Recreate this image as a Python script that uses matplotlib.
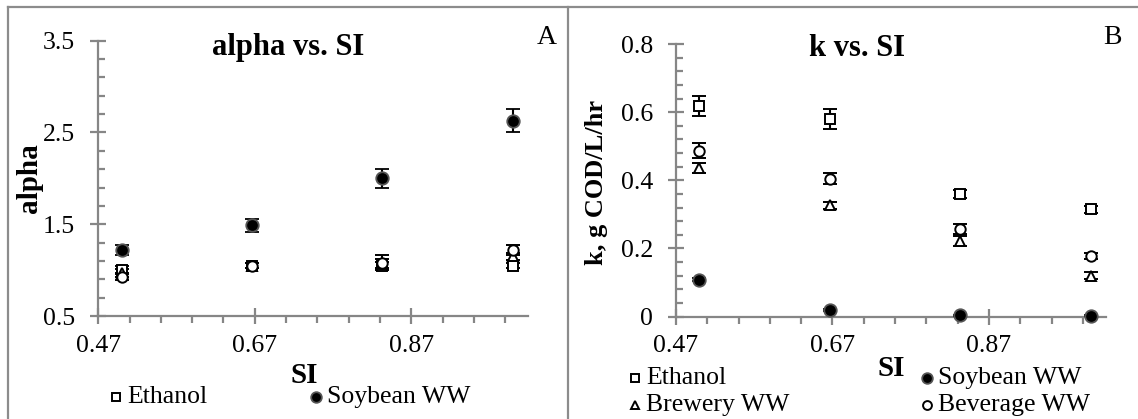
import matplotlib
matplotlib.use("Agg")
import matplotlib.pyplot as plt
from matplotlib.lines import Line2D
import numpy as np

plt.rcParams['font.family'] = ['Liberation Serif', 'DejaVu Serif']

# ---------------- data ----------------
si = [0.5, 0.667, 0.833, 1.0]

# Panel A: alpha vs SI
alpha_ethanol = [1.00, 1.05, 1.05, 1.05]
alpha_ethanol_err = [0.04, 0.03, 0.04, 0.03]
alpha_brewery = [0.97, 1.05, 1.07, 1.15]
alpha_brewery_err = [0.04, 0.03, 0.05, 0.04]
alpha_beverage = [0.93, 1.05, 1.08, 1.22]
alpha_beverage_err = [0.04, 0.03, 0.08, 0.05]
alpha_soybean = [1.22, 1.49, 2.00, 2.63]
alpha_soybean_err = [0.05, 0.07, 0.10, 0.13]

# Panel B: k vs SI (g COD/L/hr)
k_ethanol = [0.618, 0.580, 0.360, 0.315]
k_ethanol_err = [0.030, 0.030, 0.012, 0.010]
k_brewery = [0.437, 0.327, 0.222, 0.120]
k_brewery_err = [0.015, 0.010, 0.015, 0.010]
k_beverage = [0.487, 0.405, 0.258, 0.177]
k_beverage_err = [0.022, 0.015, 0.015, 0.008]
k_soybean = [0.108, 0.018, 0.003, 0.002]
k_soybean_err = [0.004, 0.003, 0.001, 0.001]

xticks = [0.47, 0.67, 0.87]
a_yticks = [0.5, 1.5, 2.5, 3.5]
k_yticks = [0, 0.2, 0.4, 0.6, 0.8]

# ---------------- figure ----------------
W, H = 1138, 419
fig = plt.figure(figsize=(W / 100, H / 100), dpi=100)

def fx(px):
    return px / W

def fy(py):
    return 1 - py / H

axcol = '#868686'
tick_fs = 18.5
lab_fs = 21

# panel border lines
bc = '#8c8c8c'
fig.add_artist(Line2D([fx(8), fx(8)], [fy(7), 0], color=bc, lw=1.6, transform=fig.transFigure))
fig.add_artist(Line2D([fx(8), 1], [fy(7), fy(7)], color=bc, lw=1.6, transform=fig.transFigure))
fig.add_artist(Line2D([fx(567.7), fx(567.7)], [fy(7), 0], color=bc, lw=1.6, transform=fig.transFigure))

axA = fig.add_axes([fx(98.2), fy(316), fx(527.8) - fx(98.2), fy(40.7) - fy(316)])
axB = fig.add_axes([fx(676), fy(316.5), fx(1105.5) - fx(676), fy(44) - fy(316.5)])

sq = dict(marker='s', mfc='white', mec='black', ms=7.5, mew=1.4)
tri = dict(marker='^', mfc='white', mec='black', ms=7.5, mew=1.4)
circ = dict(marker='o', mfc='white', mec='black', ms=7.5, mew=1.4)
dot = dict(marker='o', mfc='black', mec='#555555', ms=9, mew=1.3)
eb = dict(ls='none', ecolor='black', elinewidth=1.5, capsize=5, capthick=1.5)


def style(ax, ymin, ymax, yticks, yminor):
    ax.set_xlim(0.47, 1.019)
    ax.set_ylim(ymin, ymax)
    for s in ['top', 'right']:
        ax.spines[s].set_visible(False)
    for s in ['left', 'bottom']:
        ax.spines[s].set_color(axcol)
        ax.spines[s].set_linewidth(1.6)
    ax.set_xticks(xticks)
    ax.set_xticklabels([f'{v:.2f}' for v in xticks])
    ax.set_xticks(np.arange(0.47, 1.0, 0.04), minor=True)
    ax.set_yticks(yticks)
    ax.set_yticks(yminor, minor=True)
    ax.tick_params(axis='both', which='major', direction='inout', length=11,
                   width=1.6, color=axcol, labelsize=tick_fs)
    ax.tick_params(axis='x', which='major', pad=8)
    ax.tick_params(axis='y', which='major', pad=11)
    ax.tick_params(axis='x', which='minor', direction='out', length=5, width=1.6, color=axcol)
    ax.tick_params(axis='y', which='minor', direction='in', length=5, width=1.6, color=axcol)


def unclip(ax):
    for art in ax.get_children():
        try:
            art.set_clip_on(False)
        except Exception:
            pass


# ---- Panel A ----
style(axA, 0.5, 3.5, a_yticks, np.arange(0.5, 3.51, 0.2))
axA.set_yticklabels(['0.5', '1.5', '2.5', '3.5'])
axA.errorbar(si, alpha_ethanol, yerr=alpha_ethanol_err, **eb, **sq, zorder=3)
axA.errorbar(si, alpha_brewery, yerr=alpha_brewery_err, **eb, **tri, zorder=3)
axA.errorbar(si, alpha_beverage, yerr=alpha_beverage_err, **eb, **circ, zorder=3)
axA.errorbar(si, alpha_soybean, yerr=alpha_soybean_err, **eb, **dot, zorder=4)
unclip(axA)

fig.text(fx(288), fy(47), 'alpha vs. SI', fontsize=lab_fs + 1, fontweight='bold', ha='center', va='center')
fig.text(fx(547), fy(37), 'A', fontsize=20, ha='center', va='center')
fig.text(fx(29), fy(178), 'alpha', fontsize=lab_fs, fontweight='bold', rotation=90, ha='center', va='center')
fig.text(fx(304), fy(375), 'SI', fontsize=lab_fs, fontweight='bold', ha='center', va='center')

def legend_entry(xm, y, style_kw, label):
    fig.add_artist(Line2D([fx(xm)], [fy(y)], ls='none', transform=fig.transFigure,
                          **{k: (v * 0.85 if k == 'ms' else v) for k, v in style_kw.items()}))
    fig.text(fx(xm + 11), fy(y), label, fontsize=tick_fs, ha='left', va='center')

legend_entry(116, 397, sq, 'Ethanol')
legend_entry(316, 397, dot, 'Soybean WW')

# ---- Panel B ----
style(axB, 0, 0.8, k_yticks, np.arange(0, 0.801, 0.04))
axB.set_yticklabels(['0', '0.2', '0.4', '0.6', '0.8'])
axB.errorbar(si, k_ethanol, yerr=k_ethanol_err, **eb, **sq, zorder=3)
axB.errorbar(si, k_brewery, yerr=k_brewery_err, **eb, **tri, zorder=3)
axB.errorbar(si, k_beverage, yerr=k_beverage_err, **eb, **circ, zorder=3)
axB.errorbar(si, k_soybean, yerr=k_soybean_err, **eb, **dot, zorder=4)
unclip(axB)

fig.text(fx(857), fy(48), 'k vs. SI', fontsize=lab_fs + 1, fontweight='bold', ha='center', va='center')
fig.text(fx(1112), fy(37), 'B', fontsize=20, ha='center', va='center')
fig.text(fx(597), fy(182), 'k, g COD/L/hr', fontsize=19, fontweight='bold', rotation=90, ha='center', va='center')
fig.text(fx(891), fy(368), 'SI', fontsize=lab_fs, fontweight='bold', ha='center', va='center')

legend_entry(635, 378, sq, 'Ethanol')
legend_entry(927, 378, dot, 'Soybean WW')
legend_entry(635, 405, tri, 'Brewery WW')
legend_entry(927, 405, circ, 'Beverage WW')

fig.savefig('out.png', dpi=100)
